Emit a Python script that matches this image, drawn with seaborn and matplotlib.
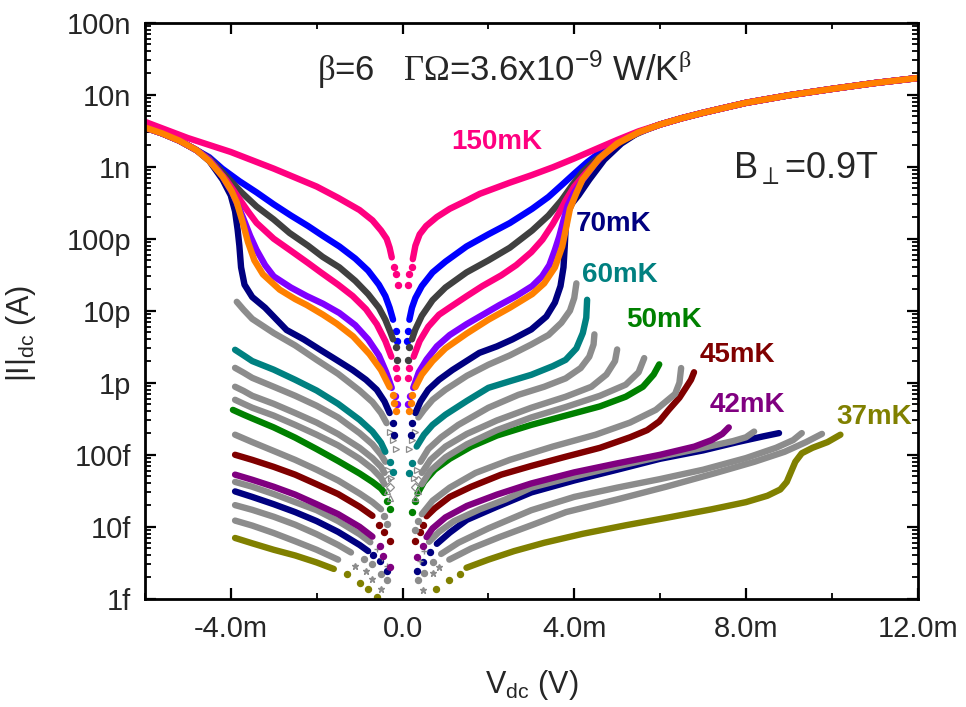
import numpy as np
import pandas as pd
import matplotlib
matplotlib.use("Agg")
import matplotlib.pyplot as plt
import matplotlib.ticker as mticker
import seaborn as sns

# All points: (V in mV, |I| in A)

# shared ends of the seven warm curves
WARM_LEFT  = [(-6.0, 3.5e-9), (-5.6, 2.9e-9), (-5.2, 2.3e-9), (-4.8, 1.7e-9)]
WARM_RIGHT = [(6.0, 3.85e-9), (6.5, 4.7e-9), (7.0, 5.6e-9), (8.0, 7.7e-9), (9.0, 9.8e-9),
              (10.0, 1.2e-8), (11.0, 1.45e-8), (12.0, 1.7e-8)]

T150_L = [(-6.0, 4.2e-9), (-5.0, 2.5e-9), (-4.0, 1.6e-9), (-3.0, 9.4e-10), (-2.0, 5.3e-10), (-1.5, 3.7e-10),
          (-1.0, 2.5e-10), (-0.7, 1.8e-10), (-0.5, 1.3e-10), (-0.37, 1.0e-10), (-0.3, 7.5e-11), (-0.25, 5.5e-11)]
T150_D = [(-0.2, 4.0e-11), (-0.15, 3.2e-11), (-0.11, 2.3e-11), (0.12, 2.3e-11), (0.16, 3.2e-11), (0.21, 4.0e-11)]
T150_R = [(0.24, 5.2e-11), (0.3, 8.0e-11), (0.4, 1.15e-10), (0.55, 1.5e-10), (0.8, 2.0e-10), (1.1, 2.6e-10),
          (1.5, 3.4e-10), (1.8, 4.2e-10), (2.5, 6.0e-10), (3.0, 7.6e-10), (3.5, 9.8e-10), (4.0, 1.3e-9),
          (4.5, 1.75e-9), (5.0, 2.35e-9), (5.5, 3.1e-9)] + WARM_RIGHT

BLUE_L = WARM_LEFT + [(-4.5, 1.35e-9), (-4.2, 9.4e-10), (-3.8, 6.3e-10), (-3.4, 4.4e-10), (-3.0, 3.0e-10),
                      (-2.6, 2.1e-10), (-2.2, 1.5e-10), (-1.86, 1.1e-10), (-1.47, 7.8e-11), (-1.1, 5.3e-11),
                      (-0.8, 3.6e-11), (-0.55, 2.3e-11), (-0.4, 1.6e-11), (-0.3, 1.1e-11), (-0.22, 7.5e-12)]
BLUE_D = [(-0.15, 5.3e-12), (-0.12, 3.8e-12), (0.1, 3.8e-12), (0.13, 5.3e-12)]
BLUE_R = [(0.16, 7.5e-12), (0.22, 1.1e-11), (0.3, 1.5e-11), (0.45, 2.2e-11), (0.7, 3.4e-11), (1.0, 4.8e-11),
          (1.49, 7.8e-11), (2.0, 1.15e-10), (2.5, 1.65e-10), (3.02, 2.6e-10), (3.4, 3.8e-10), (3.7, 5.5e-10),
          (4.0, 8.0e-10), (4.3, 1.15e-9), (4.7, 1.75e-9), (5.1, 2.4e-9), (5.5, 3.0e-9)] + WARM_RIGHT

DGRAY_L = WARM_LEFT + [(-4.5, 1.3e-9), (-4.09, 7.2e-10), (-3.75, 4.4e-10), (-3.4, 2.8e-10), (-3.0, 1.85e-10),
                       (-2.63, 1.2e-10), (-2.2, 8.0e-11), (-1.86, 5.6e-11), (-1.47, 4.0e-11), (-1.1, 2.6e-11),
                       (-0.8, 1.7e-11), (-0.55, 1.1e-11), (-0.4, 7.5e-12), (-0.28, 5.0e-12), (-0.22, 4.0e-12)]
DGRAY_D = [(-0.15, 3.1e-12), (-0.12, 2.1e-12), (0.12, 2.1e-12), (0.15, 3.1e-12)]
DGRAY_R = [(0.22, 4.0e-12), (0.3, 5.5e-12), (0.45, 8.5e-12), (0.7, 1.4e-11), (1.0, 2.1e-11), (1.49, 3.4e-11),
           (2.0, 5.0e-11), (2.5, 7.5e-11), (3.02, 1.3e-10), (3.4, 2.1e-10), (3.7, 3.4e-10), (3.95, 5.5e-10),
           (4.2, 8.5e-10), (4.5, 1.25e-9), (4.9, 1.9e-9), (5.3, 2.6e-9), (5.7, 3.3e-9)] + WARM_RIGHT

PINK_L = WARM_LEFT + [(-4.5, 1.25e-9), (-4.1, 6.5e-10), (-3.79, 3.5e-10), (-3.6, 2.4e-10), (-3.4, 1.66e-10),
                      (-3.0, 1.0e-10), (-2.63, 7.0e-11), (-2.2, 4.6e-11), (-1.9, 3.4e-11), (-1.5, 2.3e-11),
                      (-1.16, 1.6e-11), (-0.85, 1.05e-11), (-0.6, 6.5e-12), (-0.4, 3.8e-12), (-0.26, 2.3e-12)]
PINK_D = [(-0.15, 1.6e-12), (-0.12, 1.15e-12), (0.12, 1.15e-12), (0.15, 1.6e-12)]
PINK_R = [(0.26, 2.3e-12), (0.4, 3.8e-12), (0.6, 6.0e-12), (0.85, 8.8e-12), (1.09, 1.1e-11), (1.5, 1.6e-11),
          (1.86, 2.2e-11), (2.3, 3.1e-11), (2.65, 4.3e-11), (3.0, 6.5e-11), (3.26, 9.7e-11), (3.5, 1.6e-10),
          (3.65, 2.3e-10), (3.8, 3.4e-10), (4.0, 5.3e-10), (4.28, 8.3e-10), (4.7, 1.5e-9), (5.1, 2.3e-9),
          (5.5, 3.0e-9)] + WARM_RIGHT

VIOLET_L = WARM_LEFT + [(-4.5, 1.25e-9), (-4.2, 7.5e-10), (-3.95, 4.2e-10), (-3.72, 2.0e-10), (-3.55, 1.1e-10),
                        (-3.4, 7.0e-11), (-3.2, 4.3e-11), (-3.0, 3.0e-11), (-2.6, 2.1e-11), (-2.23, 1.6e-11),
                        (-1.85, 1.25e-11), (-1.47, 9.3e-12), (-1.1, 6.3e-12), (-0.8, 4.0e-12), (-0.55, 2.4e-12),
                        (-0.38, 1.4e-12), (-0.25, 8.5e-13)]
VIOLET_D = [(-0.18, 6.5e-13), (-0.12, 5.0e-13), (0.12, 5.0e-13), (0.18, 6.5e-13)]
VIOLET_R = [(0.25, 8.5e-13), (0.38, 1.4e-12), (0.56, 2.1e-12), (0.8, 3.2e-12), (1.1, 4.6e-12), (1.49, 6.5e-12),
            (1.9, 9.0e-12), (2.26, 1.2e-11), (2.65, 1.6e-11), (3.02, 2.2e-11), (3.25, 3.0e-11), (3.42, 4.3e-11),
            (3.55, 7.0e-11), (3.65, 1.07e-10), (3.75, 1.8e-10), (3.85, 2.9e-10), (4.0, 4.4e-10), (4.2, 6.6e-10),
            (4.58, 1.3e-9), (5.0, 2.2e-9), (5.5, 3.0e-9)] + WARM_RIGHT

ORANGE_L = WARM_LEFT + [(-4.5, 1.2e-9), (-4.19, 7.3e-10), (-3.98, 4.6e-10), (-3.86, 3.2e-10), (-3.72, 1.66e-10),
                        (-3.6, 9.0e-11), (-3.45, 5.0e-11), (-3.25, 3.2e-11), (-2.86, 1.96e-11), (-2.5, 1.45e-11),
                        (-2.23, 1.2e-11), (-1.85, 8.8e-12), (-1.53, 6.6e-12), (-1.15, 4.4e-12), (-0.77, 2.5e-12),
                        (-0.5, 1.5e-12), (-0.3, 8.7e-13)]
ORANGE_D = [(-0.23, 6.8e-13), (-0.19, 5.2e-13), (-0.14, 4.0e-13), (0.14, 4.0e-13), (0.19, 5.2e-13), (0.23, 6.8e-13)]
ORANGE_R = [(0.3, 8.7e-13), (0.45, 1.3e-12), (0.7, 2.0e-12), (1.0, 3.0e-12), (1.49, 4.8e-12), (2.0, 7.5e-12),
            (2.5, 1.1e-11), (3.02, 1.7e-11), (3.3, 2.4e-11), (3.55, 4.0e-11), (3.72, 7.8e-11), (3.82, 1.5e-10),
            (3.9, 2.6e-10), (4.05, 4.3e-10), (4.19, 6.6e-10), (4.58, 1.3e-9), (5.0, 2.1e-9),
            (5.5, 3.0e-9)] + WARM_RIGHT

NAVY_L = WARM_LEFT + [(-4.5, 1.2e-9), (-4.19, 6.6e-10), (-4.0, 4.0e-10), (-3.9, 2.4e-10), (-3.84, 1.33e-10),
                      (-3.8, 8.0e-11), (-3.76, 4.0e-11), (-3.68, 2.3e-11), (-3.5, 1.55e-11), (-3.2, 1.1e-11),
                      (-2.7, 5.4e-12), (-2.3, 4.0e-12), (-1.93, 2.9e-12), (-1.55, 2.1e-12), (-1.16, 1.5e-12),
                      (-0.85, 1.1e-12), (-0.6, 8.0e-13), (-0.42, 5.5e-13), (-0.3, 3.8e-13)]
NAVY_D = [(-0.23, 2.8e-13), (-0.19, 1.9e-13), (0.19, 1.9e-13), (0.23, 2.8e-13)]
NAVY_R = [(0.3, 3.8e-13), (0.42, 5.5e-13), (0.6, 8.0e-13), (0.85, 1.1e-12), (1.16, 1.5e-12), (1.79, 2.6e-12),
          (2.2, 3.2e-12), (2.56, 4.0e-12), (3.0, 5.5e-12), (3.35, 8.3e-12), (3.55, 1.3e-11), (3.68, 2.2e-11),
          (3.75, 4.0e-11), (3.78, 8.0e-11), (3.8, 1.4e-10), (3.85, 2.3e-10), (3.95, 3.1e-10), (4.1, 4.0e-10),
          (4.35, 6.6e-10), (4.7, 1.25e-9), (5.1, 2.1e-9), (5.5, 3.0e-9)] + WARM_RIGHT

G8_L = [(-3.86, 1.33e-11), (-3.7, 1.03e-11), (-3.5, 7.7e-12), (-3.0, 4.9e-12), (-2.5, 3.3e-12), (-2.0, 2.08e-12),
        (-1.5, 1.33e-12), (-1.0, 7.8e-13), (-0.7, 5.4e-13), (-0.5, 3.8e-13), (-0.37, 2.75e-13)]
G8_D = [(-0.3, 2.1e-13), (-0.22, 1.6e-13), (-0.15, 1.2e-13), (0.15, 1.2e-13), (0.22, 1.6e-13), (0.3, 2.1e-13)]
G8_R = [(0.37, 3.3e-13), (0.5, 4.2e-13), (0.7, 5.8e-13), (1.0, 8.0e-13), (1.5, 1.25e-12), (2.0, 1.78e-12),
        (2.5, 2.4e-12), (3.0, 3.4e-12), (3.4, 4.6e-12), (3.7, 6.8e-12), (3.9, 1.0e-11), (4.0, 1.5e-11),
        (4.05, 2.4e-11)]

TEAL_L = [(-3.9, 2.87e-12), (-3.7, 2.4e-12), (-3.5, 2.0e-12), (-3.0, 1.52e-12), (-2.5, 1.1e-12), (-2.0, 7.8e-13),
          (-1.5, 5.1e-13), (-1.0, 3.06e-13), (-0.7, 2.1e-13), (-0.5, 1.47e-13), (-0.4, 1.1e-13)]
TEAL_D = [(-0.3, 8.0e-14), (-0.22, 5.8e-14), (0.16, 5.6e-14), (0.23, 7.8e-14)]
TEAL_R = [(0.33, 1.3e-13), (0.5, 1.9e-13), (0.7, 2.6e-13), (1.0, 3.6e-13), (1.5, 5.6e-13), (2.0, 8.5e-13),
          (2.5, 1.05e-12), (3.0, 1.29e-12), (3.5, 1.7e-12), (3.8, 2.08e-12), (4.05, 3.0e-12), (4.2, 4.9e-12),
          (4.28, 8.0e-12), (4.3, 1.42e-11)]

G10_L = [(-3.9, 1.61e-12), (-3.7, 1.38e-12), (-3.5, 1.17e-12), (-3.0, 8.8e-13), (-2.5, 6.6e-13), (-2.0, 4.8e-13),
         (-1.5, 3.3e-13), (-1.0, 2.0e-13), (-0.7, 1.4e-13), (-0.5, 1.0e-13), (-0.4, 8.0e-14)]
G10_D = [(-0.33, 6.2e-14), (-0.26, 4.8e-14), (0.26, 4.8e-14), (0.33, 6.2e-14)]
G10_R = [(0.42, 8.0e-14), (0.6, 1.2e-13), (0.9, 1.75e-13), (1.3, 2.6e-13), (2.0, 4.5e-13), (2.7, 6.8e-13),
         (3.3, 8.8e-13), (3.8, 1.15e-12), (4.15, 1.6e-12), (4.35, 2.3e-12), (4.45, 3.4e-12), (4.47, 4.7e-12)]

G11_L = [(-3.9, 8.8e-13), (-3.7, 7.7e-13), (-3.5, 6.6e-13), (-3.0, 5.1e-13), (-2.5, 3.8e-13), (-2.0, 2.8e-13),
         (-1.5, 1.94e-13), (-1.0, 1.25e-13), (-0.7, 9.0e-14), (-0.5, 6.8e-14), (-0.42, 5.6e-14)]
G11_D = [(-0.35, 4.5e-14), (-0.28, 3.6e-14), (0.28, 3.6e-14), (0.35, 4.5e-14)]
G11_R = [(0.45, 5.6e-14), (0.65, 8.5e-14), (1.0, 1.3e-13), (1.5, 1.95e-13), (2.2, 3.0e-13), (3.0, 4.5e-13),
         (3.8, 6.4e-13), (4.4, 8.8e-13), (4.75, 1.3e-12), (4.95, 2.0e-12), (5.0, 2.9e-12)]

G12_L = [(-3.9, 5.8e-13), (-3.7, 5.1e-13), (-3.5, 4.5e-13), (-3.0, 3.5e-13), (-2.5, 2.6e-13), (-2.0, 1.9e-13),
         (-1.5, 1.35e-13), (-1.0, 8.8e-14), (-0.7, 6.4e-14), (-0.5, 4.8e-14), (-0.42, 3.9e-14)]
G12_D = [(-0.35, 3.1e-14), (-0.28, 2.5e-14), (0.28, 2.5e-14), (0.35, 3.1e-14)]
G12_R = [(0.45, 3.9e-14), (0.65, 6.0e-14), (1.0, 9.2e-14), (1.5, 1.4e-13), (2.2, 2.2e-13), (3.0, 3.3e-13),
         (3.8, 4.6e-13), (4.6, 6.6e-13), (5.2, 9.4e-13), (5.5, 1.4e-12), (5.63, 2.2e-12)]

GREEN_L = [(-3.95, 4.2e-13), (-3.7, 3.6e-13), (-3.5, 3.2e-13), (-3.0, 2.4e-13), (-2.5, 1.73e-13), (-2.0, 1.2e-13),
           (-1.5, 8.2e-14), (-1.0, 5.5e-14), (-0.7, 4.2e-14), (-0.5, 3.4e-14), (-0.42, 2.95e-14)]
GREEN_D = [(-0.35, 2.3e-14), (-0.28, 1.75e-14), (0.23, 1.6e-14), (0.3, 2.3e-14)]
GREEN_R = [(0.35, 2.9e-14), (0.5, 4.2e-14), (0.75, 6.2e-14), (1.1, 8.8e-14), (1.6, 1.3e-13), (2.2, 1.85e-13),
           (3.0, 2.6e-13), (3.8, 3.5e-13), (4.6, 4.7e-13), (5.2, 6.4e-13), (5.6, 8.8e-13), (5.85, 1.3e-12),
           (5.98, 1.8e-12)]

G14_L = [(-3.9, 1.9e-13), (-3.5, 1.5e-13), (-3.0, 1.13e-13), (-2.5, 8.5e-14), (-2.0, 6.2e-14), (-1.5, 4.4e-14),
         (-1.0, 2.9e-14), (-0.7, 2.2e-14), (-0.5, 1.75e-14)]
G14_D = [(-0.42, 1.4e-14), (-0.35, 1.1e-14), (0.3, 9.0e-15), (0.37, 1.2e-14)]
G14_R = [(0.45, 1.5e-14), (0.7, 2.3e-14), (1.1, 3.5e-14), (1.7, 5.6e-14), (2.5, 8.5e-14), (3.5, 1.3e-13),
         (4.5, 1.9e-13), (5.3, 2.8e-13), (5.9, 4.2e-13), (6.35, 7.0e-13), (6.45, 1.0e-12), (6.49, 1.6e-12)]

RED_L = [(-3.9, 1.0e-13), (-3.5, 8.5e-14), (-3.0, 6.8e-14), (-2.5, 5.3e-14), (-2.0, 3.9e-14), (-1.5, 2.85e-14),
         (-1.0, 1.9e-14), (-0.7, 1.42e-14)]
RED_D = [(-0.55, 1.07e-14), (-0.42, 8.5e-15), (-0.3, 6.3e-15), (0.28, 6.3e-15), (0.4, 8.5e-15), (0.47, 1.07e-14)]
RED_R = [(0.56, 1.4e-14), (0.75, 1.8e-14), (1.1, 2.6e-14), (1.6, 3.6e-14), (2.3, 5.3e-14), (3.0, 7.0e-14),
         (3.8, 9.4e-14), (4.6, 1.25e-13), (5.3, 1.75e-13), (5.7, 2.2e-13), (5.98, 2.9e-13), (6.2, 4.2e-13),
         (6.45, 6.2e-13), (6.6, 8.5e-13), (6.72, 1.1e-12), (6.79, 1.4e-12)]

PURPLE_L = [(-3.9, 5.3e-14), (-3.5, 4.5e-14), (-3.0, 3.6e-14), (-2.5, 2.8e-14), (-2.0, 2.06e-14), (-1.5, 1.5e-14),
            (-1.0, 1.0e-14), (-0.7, 7.3e-15)]
PURPLE_D = [(-0.53, 5.5e-15), (-0.45, 3.9e-15), (-0.3, 2.8e-15), (0.33, 3.8e-15), (0.47, 5.5e-15)]
PURPLE_R = [(0.56, 7.2e-15), (0.7, 9.5e-15), (1.0, 1.35e-14), (1.5, 1.95e-14), (2.2, 2.8e-14), (3.0, 4.0e-14),
            (4.0, 5.7e-14), (5.0, 7.6e-14), (6.0, 1.0e-13), (6.8, 1.3e-13), (7.2, 1.6e-13), (7.45, 1.95e-13),
            (7.6, 2.4e-13)]

G17_L = [(-3.9, 4.2e-14), (-3.5, 3.6e-14), (-3.0, 2.85e-14), (-2.5, 2.2e-14), (-2.0, 1.7e-14), (-1.5, 1.2e-14),
         (-1.0, 7.9e-15), (-0.75, 6.1e-15)]
G17_D = [(-0.6, 4.9e-15), (-0.48, 3.7e-15), (-0.37, 2.9e-15), (0.4, 3.4e-15), (0.5, 4.6e-15)]
G17_R = [(0.62, 6.2e-15), (0.85, 8.5e-15), (1.2, 1.2e-14), (1.8, 1.75e-14), (2.4, 2.4e-14), (3.0, 3.5e-14),
         (4.0, 5.0e-14), (5.0, 6.9e-14), (6.0, 9.4e-14), (7.0, 1.25e-13), (7.7, 1.55e-13), (8.0, 1.75e-13),
         (8.19, 2.1e-13)]

NAVY2_L = [(-3.9, 3.1e-14), (-3.5, 2.6e-14), (-3.0, 2.06e-14), (-2.5, 1.6e-14), (-2.0, 1.2e-14), (-1.5, 8.5e-15),
           (-1.0, 5.6e-15), (-0.8, 4.6e-15)]
NAVY2_D = [(-0.68, 4.0e-15), (-0.53, 3.3e-15), (-0.37, 2.4e-15), (0.33, 2.4e-15), (0.47, 3.2e-15), (0.63, 4.4e-15)]
NAVY2_R = [(0.8, 5.8e-15), (1.1, 8.3e-15), (1.5, 1.25e-14), (2.2, 1.9e-14), (3.0, 3.0e-14), (4.0, 4.4e-14),
           (5.0, 6.2e-14), (6.0, 8.8e-14), (7.0, 1.15e-13), (7.8, 1.5e-13), (8.4, 1.8e-13), (8.77, 2.0e-13)]

G19_L = [(-3.9, 2.0e-14), (-3.5, 1.72e-14), (-3.0, 1.38e-14), (-2.5, 1.07e-14), (-2.0, 7.9e-15), (-1.5, 5.6e-15),
         (-1.2, 4.4e-15)]
G19_D = [(-0.9, 3.6e-15), (-0.7, 3.0e-15), (-0.49, 2.2e-15), (-0.37, 1.8e-15), (0.37, 1.84e-15), (0.49, 2.3e-15),
         (0.7, 3.2e-15)]
G19_R = [(0.9, 4.2e-15), (1.3, 6.0e-15), (2.0, 9.5e-15), (3.0, 1.7e-14), (4.0, 2.6e-14), (5.0, 3.5e-14),
         (6.0, 4.6e-14), (7.0, 6.2e-14), (8.0, 9.0e-14), (8.7, 1.25e-13), (9.1, 1.6e-13), (9.3, 2.0e-13)]

G20_L = [(-3.9, 1.22e-14), (-3.5, 1.04e-14), (-3.0, 8.2e-15), (-2.5, 6.3e-15), (-2.0, 4.8e-15), (-1.5, 3.5e-15)]
G20_D = [(-1.1, 2.9e-15), (-0.84, 2.4e-15), (-0.7, 1.9e-15), (-0.49, 1.35e-15),
         (0.47, 1.33e-15), (0.7, 2.3e-15), (0.86, 2.8e-15)]
G20_R = [(1.09, 3.5e-15), (1.6, 5.0e-15), (2.26, 7.2e-15), (3.0, 1.05e-14), (3.81, 1.6e-14), (5.0, 2.4e-14),
         (6.14, 3.6e-14), (7.3, 5.6e-14), (8.2, 8.0e-14), (8.9, 1.1e-13), (9.4, 1.5e-13), (9.77, 1.95e-13)]

OLIVE_L = [(-3.9, 7.0e-15), (-3.5, 5.9e-15), (-3.0, 4.8e-15), (-2.5, 4.0e-15), (-2.0, 3.2e-15), (-1.6, 2.6e-15)]
OLIVE_D = [(-1.3, 2.2e-15), (-1.0, 1.66e-15), (-0.81, 1.35e-15), (-0.6, 1.05e-15),
           (0.79, 1.35e-15), (1.09, 1.8e-15), (1.33, 2.2e-15)]
OLIVE_R = [(1.49, 2.7e-15), (2.0, 3.5e-15), (2.6, 4.6e-15), (3.3, 6.0e-15), (4.2, 8.0e-15), (5.2, 1.05e-14),
           (6.2, 1.35e-14), (7.2, 1.75e-14), (8.0, 2.2e-14), (8.5, 2.7e-14), (8.8, 3.3e-14), (8.95, 4.2e-14),
           (9.05, 5.8e-14), (9.15, 8.0e-14), (9.3, 1.05e-13), (9.55, 1.25e-13), (9.9, 1.5e-13), (10.2, 1.9e-13)]

Y_TICKS = [1e-15, 1e-14, 1e-13, 1e-12, 1e-11, 1e-10, 1e-9, 1e-8, 1e-7]
Y_TICK_LABELS = ["1f", "10f", "100f", "1p", "10p", "100p", "1n", "10n", "100n"]
X_TICKS = [-4e-3, 0.0, 4e-3, 8e-3, 12e-3]
X_TICK_LABELS = ["-4.0m", "0.0", "4.0m", "8.0m", "12.0m"]

GRAY = "#8c8c8c"

# drawing order: cold curves first, warm ones on top
curves = [
    (OLIVE_L, OLIVE_D, OLIVE_R, "#808000", "o"),
    (G20_L, G20_D, G20_R, GRAY, "*"),
    (G19_L, G19_D, G19_R, GRAY, "o"),
    (NAVY2_L, NAVY2_D, NAVY2_R, "#000080", "o"),
    (G17_L, G17_D, G17_R, GRAY, "+"),
    (PURPLE_L, PURPLE_D, PURPLE_R, "#800080", "o"),
    (RED_L, RED_D, RED_R, "#800000", "o"),
    (G14_L, G14_D, G14_R, GRAY, "o"),
    (GREEN_L, GREEN_D, GREEN_R, "#008000", "o"),
    (G12_L, G12_D, G12_R, GRAY, "^"),
    (G11_L, G11_D, G11_R, GRAY, "D"),
    (G10_L, G10_D, G10_R, GRAY, ">"),
    (TEAL_L, TEAL_D, TEAL_R, "#008080", "o"),
    (G8_L, G8_D, G8_R, GRAY, ">"),
    (NAVY_L, NAVY_D, NAVY_R, "#000080", "o"),
    (BLUE_L, BLUE_D, BLUE_R, "#0000ff", "o"),
    (DGRAY_L, DGRAY_D, DGRAY_R, "#404040", "o"),
    (PINK_L, PINK_D, PINK_R, "#ff0080", "o"),
    (VIOLET_L, VIOLET_D, VIOLET_R, "#8000ff", "o"),
    (T150_L, T150_D, T150_R, "#ff0080", "o"),
    (ORANGE_L, ORANGE_D, ORANGE_R, "#ff8000", "o"),
]

# (text, colour, x, y) in axes fraction
labels = [
    ("150mK", "#ff0080", 0.455, 0.793),
    ("70mK", "#000080", 0.607, 0.651),
    ("60mK", "#008080", 0.615, 0.562),
    ("50mK", "#008000", 0.671, 0.484),
    ("45mK", "#800000", 0.767, 0.424),
    ("42mK", "#800080", 0.780, 0.337),
    ("37mK", "#808000", 0.944, 0.316),
]


def to_frame(points):
    df = pd.DataFrame(points, columns=["v_mV", "i"])
    df["v"] = df["v_mV"] * 1e-3
    return df


def main():
    sns.set_theme(style="ticks")
    plt.rcParams["font.family"] = ["Liberation Sans", "DejaVu Sans"]
    plt.rcParams["mathtext.fontset"] = "custom"
    plt.rcParams["mathtext.rm"] = "Liberation Sans"
    plt.rcParams["mathtext.it"] = "Liberation Sans"
    # serif greek letters, as in the original annotation
    plt.rcParams["mathtext.sf"] = "Liberation Serif"

    fig = plt.figure(figsize=(9.66, 7.07), dpi=100)
    ax = fig.add_axes([0.150, 0.153, 0.800, 0.815])
    ax.set_yscale("log")

    for left, dots, right, color, marker in curves:
        for seg in (left, right):
            df = to_frame(seg)
            sns.lineplot(data=df, x="v", y="i", sort=False, estimator=None, color=color,
                         linewidth=4.6, solid_capstyle="round", solid_joinstyle="round",
                         legend=False, ax=ax)
        d = to_frame(dots)
        if marker in (">", "^", "D"):
            ax.plot(d["v"], d["i"], ls="none", marker=marker, ms=4, mfc="none",
                    mec=color, mew=0.9)
        elif marker in ("+", "*"):
            ax.plot(d["v"], d["i"], ls="none", marker=marker, ms=5, color=color, mew=1.0)
        else:
            ax.plot(d["v"], d["i"], ls="none", marker="o", ms=4.3, color=color, mec=color)

    ax.set_xlim(-6e-3, 12e-3)
    ax.set_ylim(1e-15, 1e-7)

    ax.xaxis.set_major_locator(mticker.FixedLocator(X_TICKS))
    ax.xaxis.set_major_formatter(mticker.FixedFormatter(X_TICK_LABELS))
    ax.xaxis.set_minor_locator(mticker.MultipleLocator(2e-3))
    ax.yaxis.set_major_locator(mticker.FixedLocator(Y_TICKS))
    ax.yaxis.set_major_formatter(mticker.FixedFormatter(Y_TICK_LABELS))
    ax.yaxis.set_minor_locator(mticker.LogLocator(base=10, subs=np.arange(2, 10), numticks=20))
    ax.yaxis.set_minor_formatter(mticker.NullFormatter())

    for side in ax.spines.values():
        side.set_linewidth(2.0)
        side.set_color("black")
    ax.tick_params(which="both", direction="in", top=True, right=True, color="black")
    ax.tick_params(which="major", length=8, width=1.6, labelsize=21, pad=10)
    ax.tick_params(which="minor", length=4, width=1.3)
    ax.tick_params(axis="x", which="major", pad=12)

    ax.set_xlabel("V$_{\\mathregular{dc}}$ (V)", fontsize=22)
    ax.set_ylabel("|I|$_{\\mathregular{dc}}$ (A)", fontsize=22)
    ax.xaxis.set_label_coords(0.50, -0.12)
    ax.yaxis.set_label_coords(-0.138, 0.46)

    for text, color, x, y in labels:
        ax.text(x, y, text, color=color, fontsize=20, fontweight="bold",
                ha="center", va="center", transform=ax.transAxes)

    ax.text(0.2225, 0.898,
            "$\\mathsf{\u03b2}$=6   $\\mathsf{\u0393\u03a9}$=3.6x10$^{\\mathregular{-9}}$ W/K$^{\\mathsf{\u03b2}}$",
            fontsize=25, ha="left", va="baseline", transform=ax.transAxes)
    ax.text(0.7607, 0.731, "B$_{\\perp}$=0.9T", fontsize=26, ha="left", va="baseline",
            transform=ax.transAxes)

    fig.savefig("out.png", dpi=100)


if __name__ == "__main__":
    main()
